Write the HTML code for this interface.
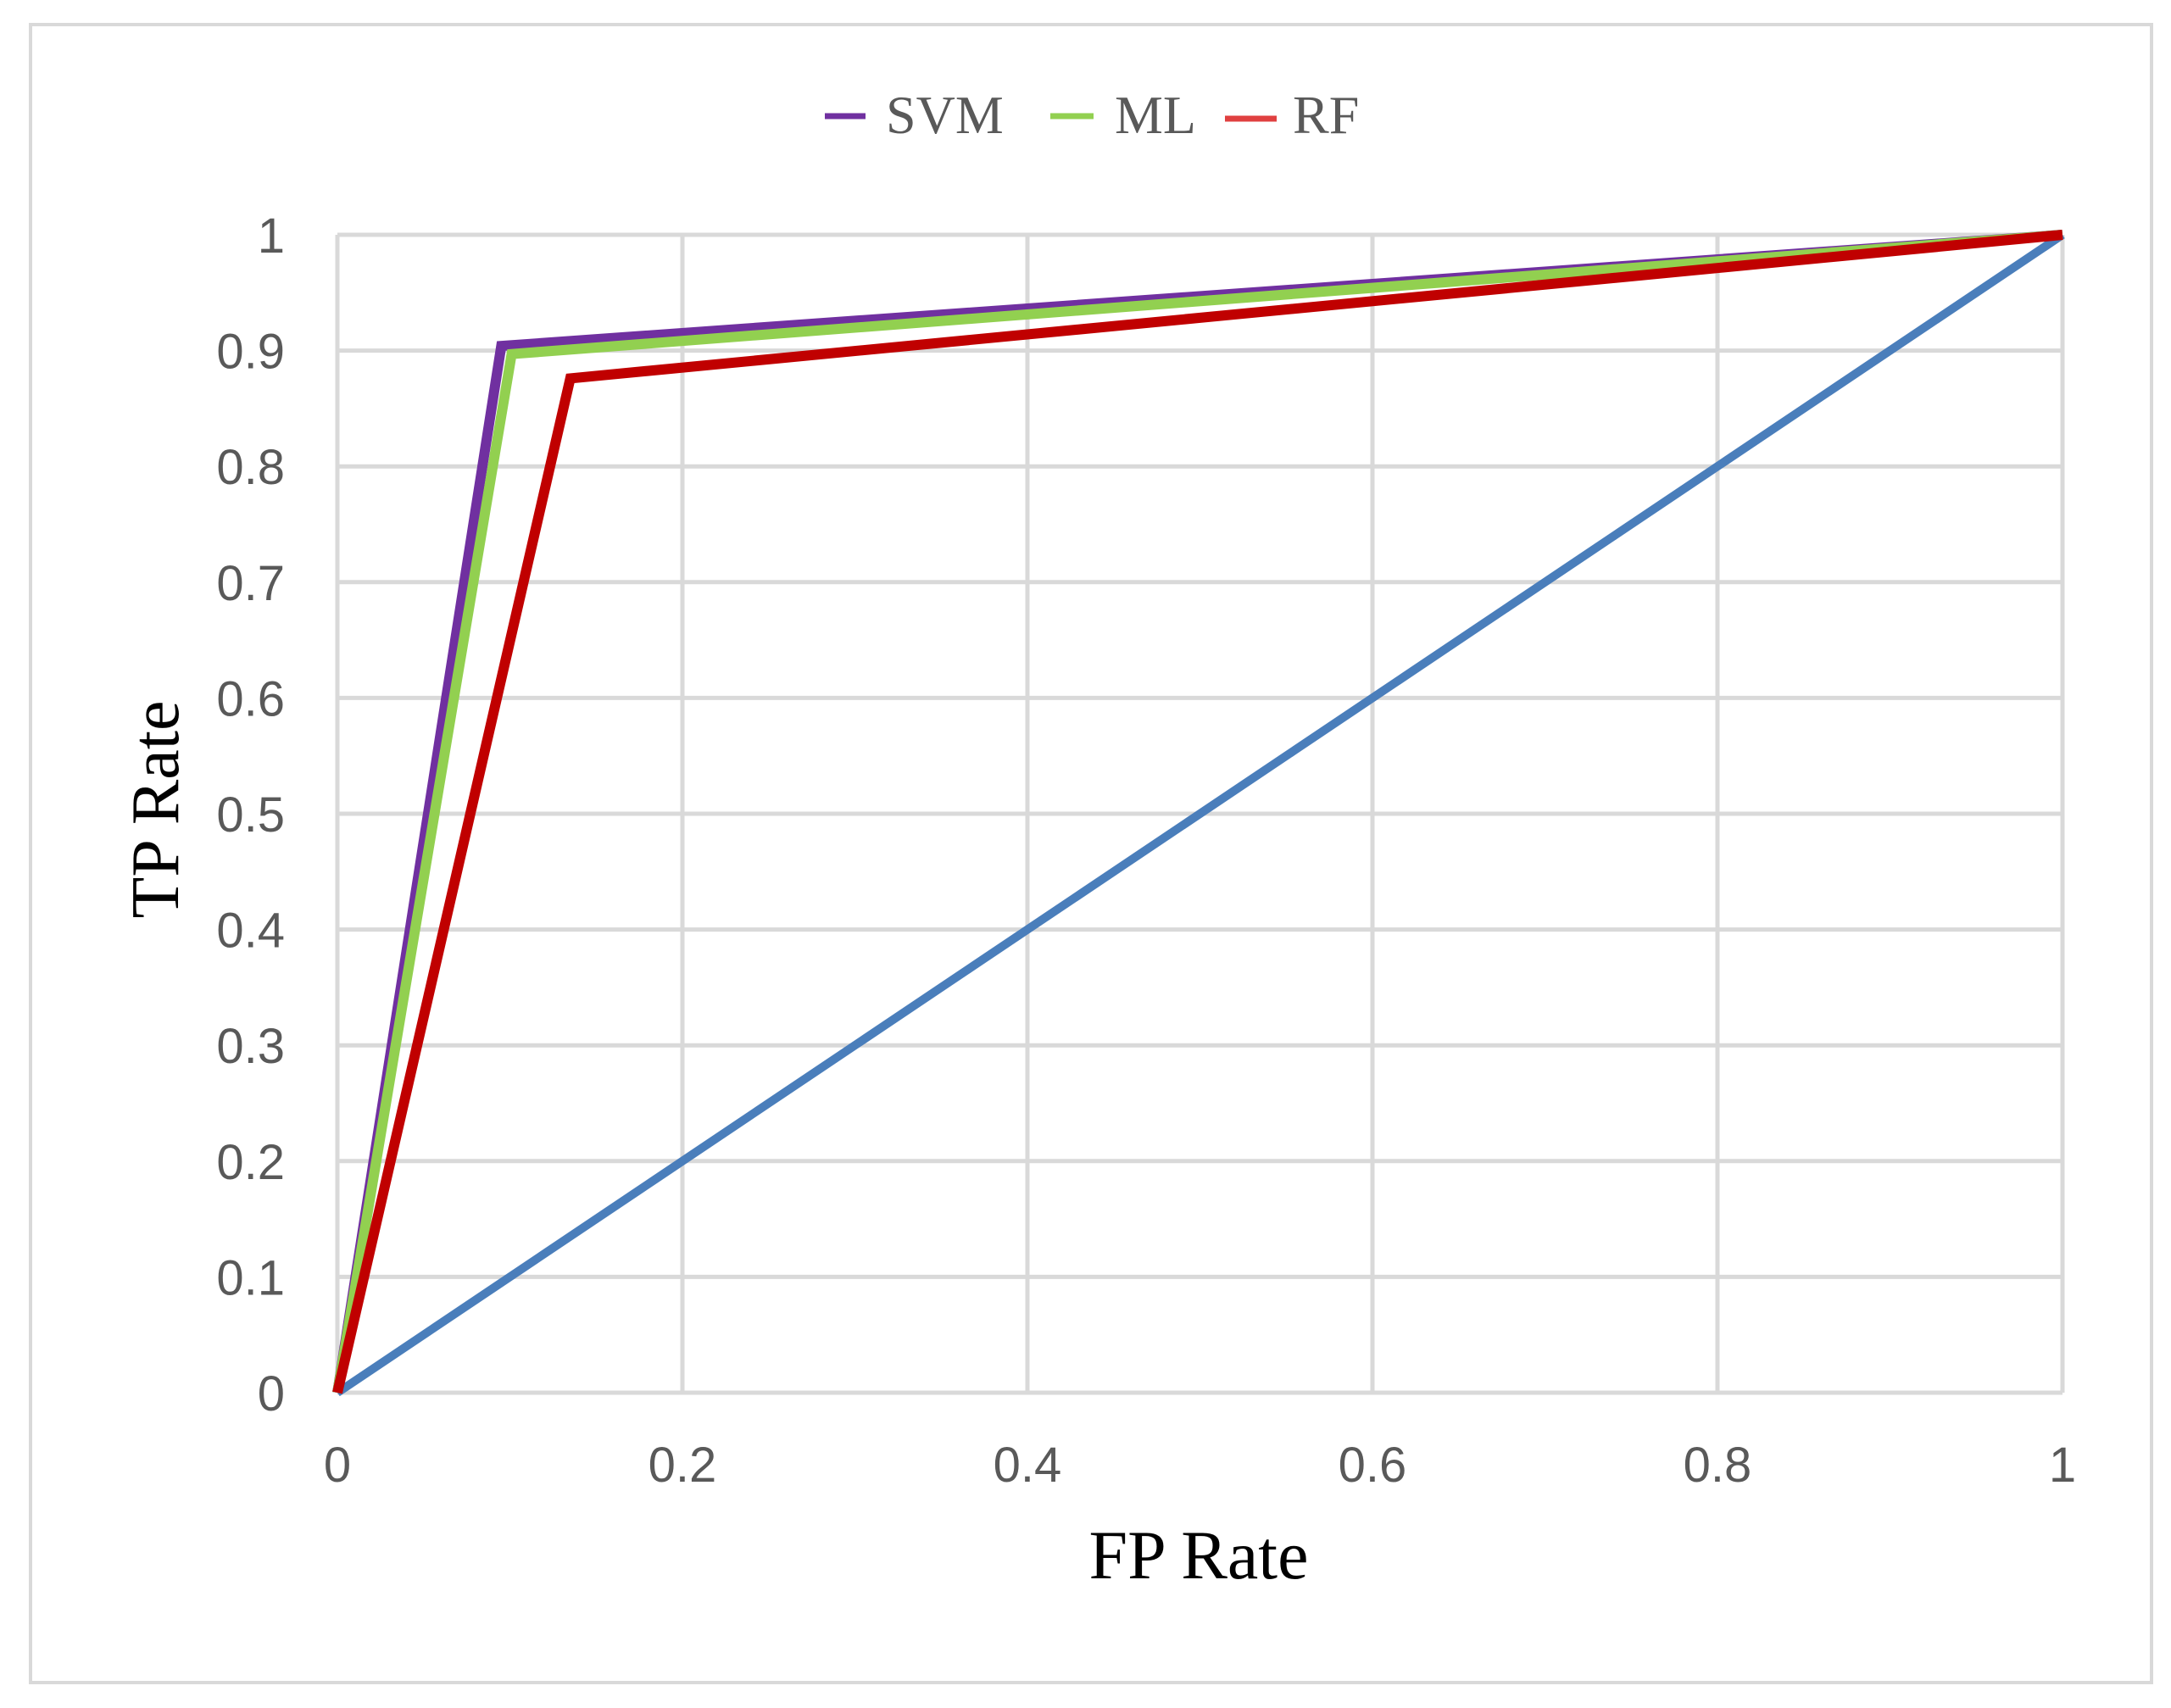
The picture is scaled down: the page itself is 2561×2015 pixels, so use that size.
<!DOCTYPE html>
<html><head><meta charset="utf-8">
<style>
html,body{margin:0;padding:0;background:#fff;}
svg{display:block;}
</style></head>
<body>
<svg id="chart" width="2561" height="2015" viewBox="0 0 2561 2015" xmlns="http://www.w3.org/2000/svg">
<rect x="36" y="29" width="2502" height="1956" fill="#fff" stroke="#d9d9d9" stroke-width="4"/>
<g id="grid"></g>
<g id="series"></g>
<g id="ticks" font-family="'Liberation Sans', sans-serif" font-size="58" fill="#595959"></g>
<g font-family="'Liberation Serif', serif" font-size="64" fill="#595959">
  <g><line x1="973" y1="137" x2="1021" y2="137" stroke="#7030a0" stroke-width="7"/><text x="1045" y="157">SVM</text></g>
  <g><line x1="1239" y1="137" x2="1290" y2="137" stroke="#92d050" stroke-width="7"/><text x="1315" y="157">ML</text></g>
  <g><line x1="1445" y1="140" x2="1506" y2="140" stroke="#e04040" stroke-width="7"/><text x="1525" y="157">RF</text></g>
</g>
<text x="1414" y="1862" text-anchor="middle" font-family="'Liberation Serif', serif" font-size="82" fill="#000">FP Rate</text>
<text transform="translate(210,955) rotate(-90)" text-anchor="middle" font-family="'Liberation Serif', serif" font-size="80" fill="#000">TP Rate</text>
</svg>
<script>
const xTicks = [0, 0.2, 0.4, 0.6, 0.8, 1];
const xTickLabels = ["0", "0.2", "0.4", "0.6", "0.8", "1"];
const yTicks = [0, 0.1, 0.2, 0.3, 0.4, 0.5, 0.6, 0.7, 0.8, 0.9, 1];
const yTickLabels = ["0", "0.1", "0.2", "0.3", "0.4", "0.5", "0.6", "0.7", "0.8", "0.9", "1"];
const baselineX = [0, 1];
const baselineY = [0, 1];
const svmX = [0, 0.095, 1];
const svmY = [0, 0.904, 1];
const mlX = [0, 0.101, 1];
const mlY = [0, 0.897, 1];
const rfX = [0, 0.135, 1];
const rfY = [0, 0.876, 1];

const NS = "http://www.w3.org/2000/svg";
const X0 = 398, X1 = 2433, Y0 = 1643, Y1 = 277;
function sx(v){ return X0 + v * (X1 - X0); }
function sy(v){ return Y0 - v * (Y0 - Y1); }

const grid = document.getElementById('grid');
yTicks.forEach((t, i) => {
  const l = document.createElementNS(NS, 'line');
  l.setAttribute('x1', X0); l.setAttribute('x2', X1);
  l.setAttribute('y1', sy(t)); l.setAttribute('y2', sy(t));
  l.setAttribute('stroke', '#d9d9d9'); l.setAttribute('stroke-width', '5');
  
  
  grid.appendChild(l);
});
xTicks.forEach((t, i) => {
  const l = document.createElementNS(NS, 'line');
  l.setAttribute('x1', sx(t)); l.setAttribute('x2', sx(t));
  l.setAttribute('y1', Y1); l.setAttribute('y2', Y0);
  l.setAttribute('stroke', '#d9d9d9'); l.setAttribute('stroke-width', '5');
  
  
  grid.appendChild(l);
});

const ticks = document.getElementById('ticks');
yTicks.forEach((t, i) => {
  const tx = document.createElementNS(NS, 'text');
  tx.setAttribute('x', 336); tx.setAttribute('y', sy(t) + 21);
  tx.setAttribute('text-anchor', 'end');
  tx.textContent = yTickLabels[i];
  
  
  ticks.appendChild(tx);
});
xTicks.forEach((t, i) => {
  const tx = document.createElementNS(NS, 'text');
  tx.setAttribute('x', sx(t)); tx.setAttribute('y', 1748);
  tx.setAttribute('text-anchor', 'middle');
  tx.textContent = xTickLabels[i];
  
  
  ticks.appendChild(tx);
});

const series = document.getElementById('series');
function drawLine(xs, ys, color, w, name){
  const p = document.createElementNS(NS, 'polyline');
  p.setAttribute('points', xs.map((x, i) => sx(x) + ',' + sy(ys[i])).join(' '));
  p.setAttribute('fill', 'none');
  p.setAttribute('stroke', color);
  p.setAttribute('stroke-width', w);
  p.setAttribute('stroke-linejoin', 'miter');
  
  
  series.appendChild(p);
}
drawLine(baselineX, baselineY, '#4a7ebb', 10, 'baseline-diagonal');
drawLine(svmX, svmY, '#7030a0', 12, 'svm-line');
drawLine(mlX, mlY, '#92d050', 12, 'ml-line');
drawLine(rfX, rfY, '#c00000', 12, 'rf-line');
</script>
</body></html>
